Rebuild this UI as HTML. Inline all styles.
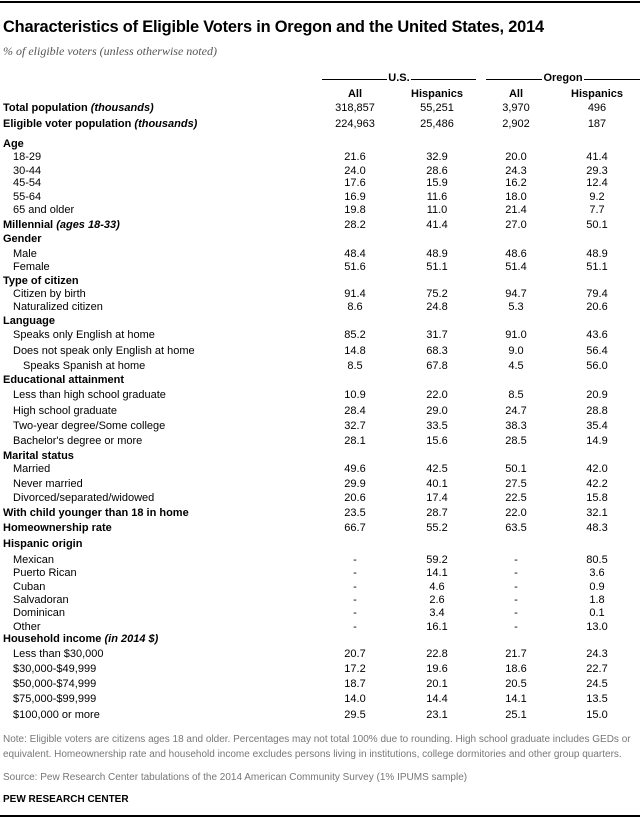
<!DOCTYPE html>
<html><head><meta charset="utf-8"><style>
body{margin:0;width:640px;height:818px;background:#fff;position:relative;font-family:"Liberation Sans Narrow","Liberation Sans",sans-serif;color:#000;overflow:hidden}
.hr{position:absolute;left:0;width:640px;height:2px;background:#000}
.r{position:absolute;left:0;width:640px;height:14px;line-height:14px;font-size:11px}
.r span{position:absolute;top:0;white-space:nowrap}
.l{left:3px}.i{left:13px}.ii{left:23px}
.b{font-weight:bold}
.a{left:315px;width:80px;text-align:center}
.h{left:397px;width:80px;text-align:center}
.c{left:476px;width:80px;text-align:center}
.d{left:557px;width:80px;text-align:center}
.t{position:absolute;left:3px;top:18px;font-size:16.4px;font-weight:bold;white-space:nowrap;letter-spacing:-0.2px}
.s{position:absolute;left:3px;top:44px;font-size:12px;font-style:italic;color:#555;font-family:"Liberation Serif",serif}
.n{position:absolute;left:3px;font-size:10px;color:#777;line-height:15px;white-space:nowrap}
.grp{position:absolute;top:72px;height:14px;font-size:11px;font-weight:bold;text-align:center}
.grp:before{content:"";position:absolute;left:0;right:0;top:7px;border-top:1px solid #000}
.grp span{position:relative;background:#fff;padding:0 1px}
</style></head><body>
<div class="hr" style="top:1px"></div>
<div class="t">Characteristics of Eligible Voters in Oregon and the United States, 2014</div>
<div class="s">% of eligible voters (unless otherwise noted)</div>
<div class="grp" style="left:322px;width:154px"><span>U.S.</span></div>
<div class="grp" style="left:486px;width:154px"><span>Oregon</span></div>
<div class="r b" style="top:87px"><span class="a">All</span><span class="h">Hispanics</span><span class="c">All</span><span class="d">Hispanics</span></div>
<div class="r" style="top:101px"><span class="l b">Total population <i>(thousands)</i></span><span class="a">318,857</span><span class="h">55,251</span><span class="c">3,970</span><span class="d">496</span></div>
<div class="r" style="top:117px"><span class="l b">Eligible voter population <i>(thousands)</i></span><span class="a">224,963</span><span class="h">25,486</span><span class="c">2,902</span><span class="d">187</span></div>
<div class="r" style="top:137px"><span class="l b">Age</span></div>
<div class="r" style="top:150px"><span class="i">18-29</span><span class="a">21.6</span><span class="h">32.9</span><span class="c">20.0</span><span class="d">41.4</span></div>
<div class="r" style="top:164px"><span class="i">30-44</span><span class="a">24.0</span><span class="h">28.6</span><span class="c">24.3</span><span class="d">29.3</span></div>
<div class="r" style="top:176px"><span class="i">45-54</span><span class="a">17.6</span><span class="h">15.9</span><span class="c">16.2</span><span class="d">12.4</span></div>
<div class="r" style="top:190px"><span class="i">55-64</span><span class="a">16.9</span><span class="h">11.6</span><span class="c">18.0</span><span class="d">9.2</span></div>
<div class="r" style="top:203px"><span class="i">65 and older</span><span class="a">19.8</span><span class="h">11.0</span><span class="c">21.4</span><span class="d">7.7</span></div>
<div class="r" style="top:218px"><span class="l b">Millennial <i>(ages 18-33)</i></span><span class="a">28.2</span><span class="h">41.4</span><span class="c">27.0</span><span class="d">50.1</span></div>
<div class="r" style="top:232px"><span class="l b">Gender</span></div>
<div class="r" style="top:247px"><span class="i">Male</span><span class="a">48.4</span><span class="h">48.9</span><span class="c">48.6</span><span class="d">48.9</span></div>
<div class="r" style="top:260px"><span class="i">Female</span><span class="a">51.6</span><span class="h">51.1</span><span class="c">51.4</span><span class="d">51.1</span></div>
<div class="r" style="top:274px"><span class="l b">Type of citizen</span></div>
<div class="r" style="top:287px"><span class="i">Citizen by birth</span><span class="a">91.4</span><span class="h">75.2</span><span class="c">94.7</span><span class="d">79.4</span></div>
<div class="r" style="top:300px"><span class="i">Naturalized citizen</span><span class="a">8.6</span><span class="h">24.8</span><span class="c">5.3</span><span class="d">20.6</span></div>
<div class="r" style="top:314px"><span class="l b">Language</span></div>
<div class="r" style="top:328px"><span class="i">Speaks only English at home</span><span class="a">85.2</span><span class="h">31.7</span><span class="c">91.0</span><span class="d">43.6</span></div>
<div class="r" style="top:344px"><span class="i">Does not speak only English at home</span><span class="a">14.8</span><span class="h">68.3</span><span class="c">9.0</span><span class="d">56.4</span></div>
<div class="r" style="top:359px"><span class="ii">Speaks Spanish at home</span><span class="a">8.5</span><span class="h">67.8</span><span class="c">4.5</span><span class="d">56.0</span></div>
<div class="r" style="top:373px"><span class="l b">Educational attainment</span></div>
<div class="r" style="top:388px"><span class="i">Less than high school graduate</span><span class="a">10.9</span><span class="h">22.0</span><span class="c">8.5</span><span class="d">20.9</span></div>
<div class="r" style="top:404px"><span class="i">High school graduate</span><span class="a">28.4</span><span class="h">29.0</span><span class="c">24.7</span><span class="d">28.8</span></div>
<div class="r" style="top:419px"><span class="i">Two-year degree/Some college</span><span class="a">32.7</span><span class="h">33.5</span><span class="c">38.3</span><span class="d">35.4</span></div>
<div class="r" style="top:434px"><span class="i">Bachelor's degree or more</span><span class="a">28.1</span><span class="h">15.6</span><span class="c">28.5</span><span class="d">14.9</span></div>
<div class="r" style="top:449px"><span class="l b">Marital status</span></div>
<div class="r" style="top:462px"><span class="i">Married</span><span class="a">49.6</span><span class="h">42.5</span><span class="c">50.1</span><span class="d">42.0</span></div>
<div class="r" style="top:477px"><span class="i">Never married</span><span class="a">29.9</span><span class="h">40.1</span><span class="c">27.5</span><span class="d">42.2</span></div>
<div class="r" style="top:491px"><span class="i">Divorced/separated/widowed</span><span class="a">20.6</span><span class="h">17.4</span><span class="c">22.5</span><span class="d">15.8</span></div>
<div class="r" style="top:506px"><span class="l b">With child younger than 18 in home</span><span class="a">23.5</span><span class="h">28.7</span><span class="c">22.0</span><span class="d">32.1</span></div>
<div class="r" style="top:521px"><span class="l b">Homeownership rate</span><span class="a">66.7</span><span class="h">55.2</span><span class="c">63.5</span><span class="d">48.3</span></div>
<div class="r" style="top:537px"><span class="l b">Hispanic origin</span></div>
<div class="r" style="top:553px"><span class="i">Mexican</span><span class="a">-</span><span class="h">59.2</span><span class="c">-</span><span class="d">80.5</span></div>
<div class="r" style="top:566px"><span class="i">Puerto Rican</span><span class="a">-</span><span class="h">14.1</span><span class="c">-</span><span class="d">3.6</span></div>
<div class="r" style="top:580px"><span class="i">Cuban</span><span class="a">-</span><span class="h">4.6</span><span class="c">-</span><span class="d">0.9</span></div>
<div class="r" style="top:593px"><span class="i">Salvadoran</span><span class="a">-</span><span class="h">2.6</span><span class="c">-</span><span class="d">1.8</span></div>
<div class="r" style="top:606px"><span class="i">Dominican</span><span class="a">-</span><span class="h">3.4</span><span class="c">-</span><span class="d">0.1</span></div>
<div class="r" style="top:620px"><span class="i">Other</span><span class="a">-</span><span class="h">16.1</span><span class="c">-</span><span class="d">13.0</span></div>
<div class="r" style="top:632px"><span class="l b">Household income <i>(in 2014 $)</i></span></div>
<div class="r" style="top:647px"><span class="i">Less than $30,000</span><span class="a">20.7</span><span class="h">22.8</span><span class="c">21.7</span><span class="d">24.3</span></div>
<div class="r" style="top:662px"><span class="i">$30,000-$49,999</span><span class="a">17.2</span><span class="h">19.6</span><span class="c">18.6</span><span class="d">22.7</span></div>
<div class="r" style="top:677px"><span class="i">$50,000-$74,999</span><span class="a">18.7</span><span class="h">20.1</span><span class="c">20.5</span><span class="d">24.5</span></div>
<div class="r" style="top:692px"><span class="i">$75,000-$99,999</span><span class="a">14.0</span><span class="h">14.4</span><span class="c">14.1</span><span class="d">13.5</span></div>
<div class="r" style="top:708px"><span class="i">$100,000 or more</span><span class="a">29.5</span><span class="h">23.1</span><span class="c">25.1</span><span class="d">15.0</span></div>
<div class="n" style="top:732px">Note: Eligible voters are citizens ages 18 and older. Percentages may not total 100% due to rounding. High school graduate includes GEDs or<br>equivalent. Homeownership rate and household income excludes persons living in institutions, college dormitories and other group quarters.</div>
<div class="n" style="top:770px">Source: Pew Research Center tabulations of the 2014 American Community Survey (1% IPUMS sample)</div>
<div class="r b" style="top:793px;font-size:10px"><span class="l">PEW RESEARCH CENTER</span></div>
<div class="hr" style="top:815px"></div>
</body></html>
